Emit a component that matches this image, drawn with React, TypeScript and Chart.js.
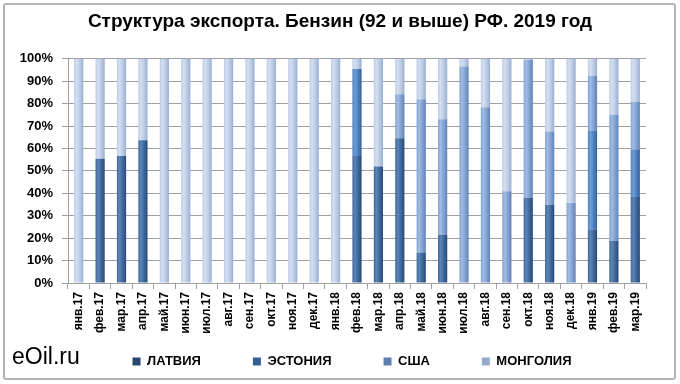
import React, { useEffect, useRef } from "react";
import { Chart, registerables } from "chart.js";

Chart.register(...registerables);

const TITLE = "Структура экспорта. Бензин (92 и выше) РФ. 2019 год";
const WATERMARK = "eOil.ru";

const categories = [
  "янв.17", "фев.17", "мар.17", "апр.17", "май.17", "июн.17", "июл.17", "авг.17", "сен.17",
  "окт.17", "ноя.17", "дек.17", "янв.18", "фев.18", "мар.18", "апр.18", "май.18", "июн.18",
  "июл.18", "авг.18", "сен.18", "окт.18", "ноя.18", "дек.18", "янв.19", "фев.19", "мар.19",
];

const latvia = [0, 55.4, 56.7, 63.7, 0, 0, 0, 0, 0, 0, 0, 0, 0, 56.7, 52, 64.6, 13.6, 21.6, 0, 0, 0, 38, 34.8, 0, 24, 18.7, 38.4];
const estonia = [0, 0, 0, 0, 0, 0, 0, 0, 0, 0, 0, 0, 0, 38.8, 0, 0, 0, 0, 0, 0, 0, 0, 0, 0, 44, 0, 21.3];
const usa = [0, 0, 0, 0, 0, 0, 0, 0, 0, 0, 0, 0, 0, 0, 0, 19.6, 68.4, 51.4, 96.6, 78.4, 40.9, 61.5, 32.8, 35.8, 24.4, 56.2, 21];
const mongolia = [100, 44.6, 43.3, 36.3, 100, 100, 100, 100, 100, 100, 100, 100, 100, 4.5, 48, 15.8, 18, 27, 3.4, 21.6, 59.1, 0.5, 32.4, 64.2, 7.6, 25.1, 19.3];

const yTicks = [0, 10, 20, 30, 40, 50, 60, 70, 80, 90, 100];

const seriesNames = ["ЛАТВИЯ", "ЭСТОНИЯ", "США", "МОНГОЛИЯ"];
// [base, light, dark]
const palettes = [
  ["rgb(60,100,152)", "rgb(92,132,182)", "rgb(40,70,112)"],
  ["rgb(74,126,187)", "rgb(112,157,210)", "rgb(50,95,150)"],
  ["rgb(126,159,209)", "rgb(162,188,226)", "rgb(95,126,176)"],
  ["rgb(185,201,228)", "rgb(212,223,240)", "rgb(150,170,205)"],
];

const FONT = "Arial, 'Liberation Sans', sans-serif";
const LEGEND_PAD = 52;

function cylinder(p: string[]) {
  return (c: any) => {
    const chart = c.chart;
    const xs = chart && chart.scales ? chart.scales.x : null;
    if (!xs || c.type !== "data") return p[0];
    const xc = xs.getPixelForValue(c.dataIndex);
    if (!Number.isFinite(xc)) return p[0];
    const w = 5;
    const g = chart.ctx.createLinearGradient(xc - w, 0, xc + w, 0);
    g.addColorStop(0, p[0]);
    g.addColorStop(0.3, p[1]);
    g.addColorStop(0.65, p[0]);
    g.addColorStop(1, p[2]);
    return g;
  };
}

const blockPlacer = {
  id: "blockPlacer",
  afterLayout(chart: any) {
    const lg = chart.legend;
    if (lg) {
      const itemTop = 355;
      lg.top = itemTop - LEGEND_PAD;
      lg.bottom = chart.height;
      lg.height = lg.bottom - lg.top;
      lg.left += 29;
      lg.right += 29;
    }
    const tb = chart.titleBlock;
    if (tb) {
      tb.left += 17;
      tb.right += 17;
    }
  },
};

export default function App() {
  const ref = useRef<HTMLCanvasElement | null>(null);

  useEffect(() => {
    if (!ref.current) return;
    const values = [latvia, estonia, usa, mongolia];
    const chart = new Chart(ref.current, {
      type: "bar",
      data: {
        labels: categories,
        datasets: values.map((v, i) => ({
          label: seriesNames[i],
          data: v,
          backgroundColor: cylinder(palettes[i]) as any,
          borderWidth: 0,
          barPercentage: 0.43,
          categoryPercentage: 1,
        })),
      },
      plugins: [blockPlacer],
      options: {
        responsive: false,
        animation: false,
        layout: { padding: { left: 0, right: 34, top: 10, bottom: 0 } },
        plugins: {
          title: {
            display: true,
            text: TITLE,
            color: "#000",
            font: { family: FONT, size: 19, weight: "bold" },
            padding: { top: 0, bottom: 26 },
          },
          legend: {
            position: "bottom",
            maxHeight: 46,
            labels: {
              color: "#000",
              boxWidth: 8,
              boxHeight: 8,
              padding: LEGEND_PAD,
              font: { family: FONT, size: 13, weight: "bold" },
            },
          },
          tooltip: { enabled: false },
        },
        scales: {
          x: {
            stacked: true,
            grid: { display: true, drawOnChartArea: false, drawTicks: true, tickLength: 6, color: "#a0a0a0", offset: true },
            border: { display: true, color: "#a0a0a0" },
            ticks: {
              autoSkip: false,
              minRotation: 90,
              maxRotation: 90,
              padding: 3,
              color: "#000",
              font: { family: FONT, size: 12, weight: "bold" },
            },
            afterFit: (s: any) => { s.height = 55; },
          },
          y: {
            stacked: true,
            min: 0,
            max: 100,
            afterBuildTicks: (s: any) => { s.ticks = yTicks.map((v) => ({ value: v })); },
            grid: { color: "#a0a0a0", tickLength: 6, drawTicks: true },
            border: { display: true, color: "#a0a0a0" },
            ticks: {
              padding: 9,
              color: "#000",
              callback: (v: any) => v + "%",
              font: { family: FONT, size: 13, weight: "bold" },
            },
            afterFit: (s: any) => { s.width = 68; },
          },
        },
      },
    });
    return () => chart.destroy();
  }, []);

  return (
    <div style={{ position: "fixed", left: 0, top: 0, width: 680, height: 384, background: "#fff" }}>
      <div
        style={{
          position: "absolute", left: 3, top: 3, width: 669, height: 373,
          border: "2px solid #b4b4b4", borderRadius: 3, boxSizing: "content-box",
        }}
      />
      <canvas ref={ref} width={680} height={384} style={{ position: "absolute", left: 0, top: 0 }} />
      <div
        style={{
          position: "absolute", left: 12, top: 345, fontFamily: FONT,
          fontSize: 23, lineHeight: 1, color: "#000",
        }}
      >
        {WATERMARK}
      </div>
    </div>
  );
}
